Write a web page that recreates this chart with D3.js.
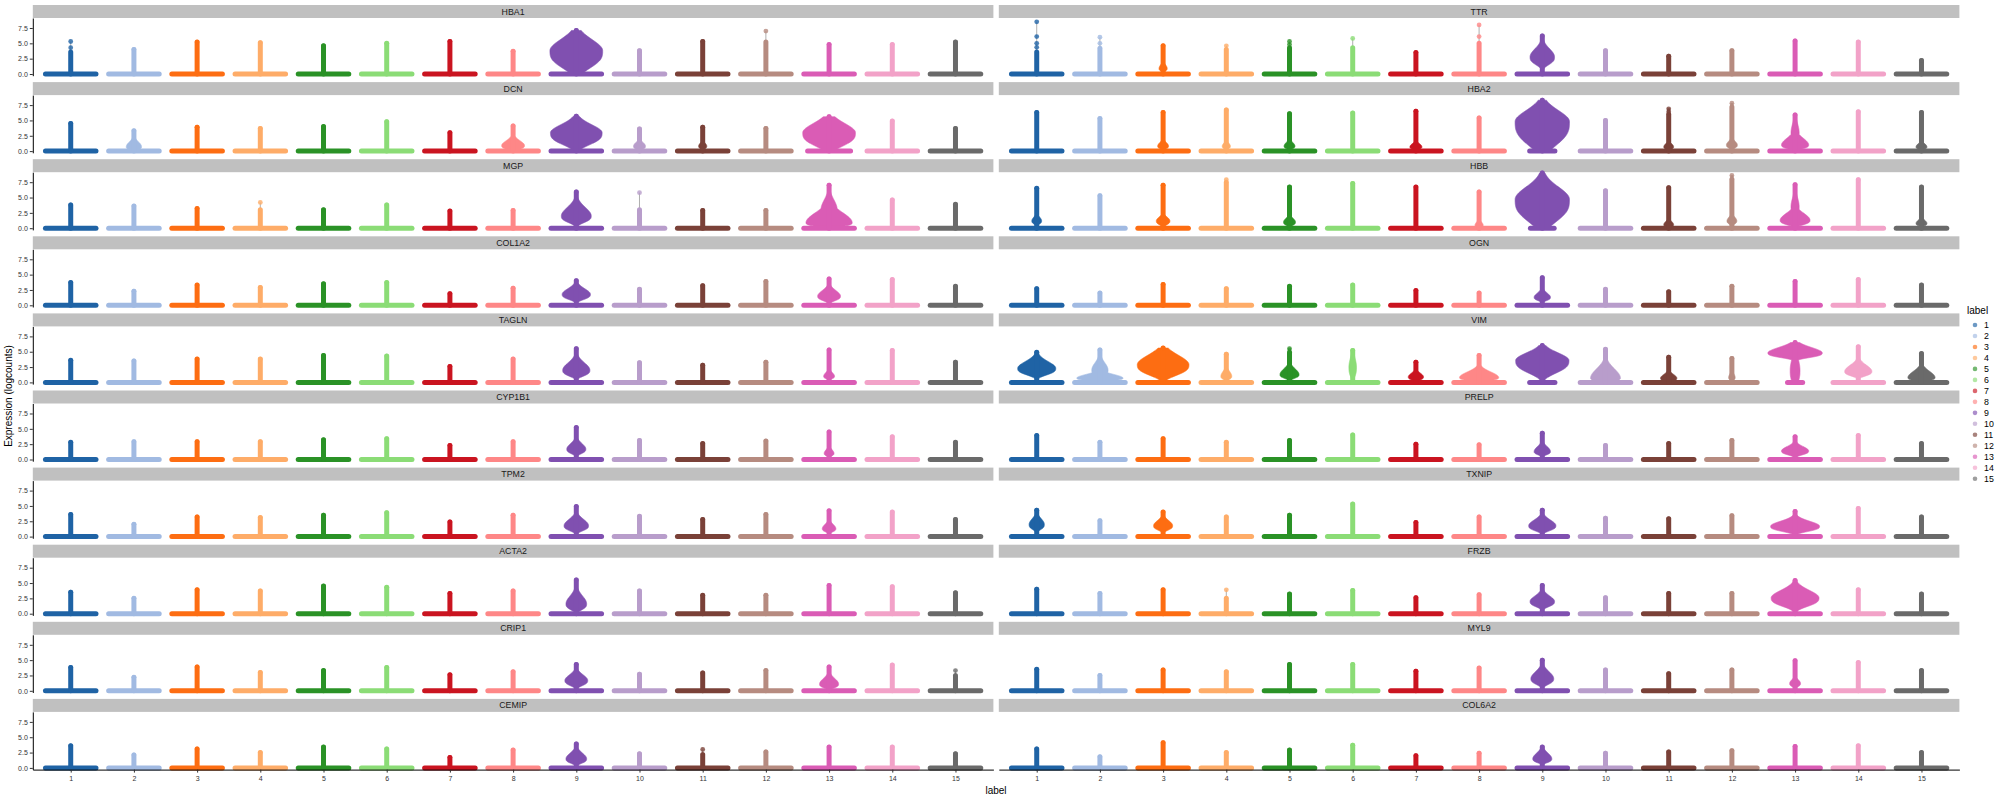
<!DOCTYPE html>
<html><head><meta charset="utf-8">
<script src="https://cdn.jsdelivr.net/npm/d3@7"></script>
<style>body{margin:0;background:#fff} svg{display:block} text{font-family:"Liberation Sans",Arial,sans-serif}</style>
</head><body><svg id="c" width="2000" height="800"></svg>
<script>
const genes = ["HBA1","TTR","DCN","HBA2","MGP","HBB","COL1A2","OGN","TAGLN","VIM","CYP1B1","PRELP","TPM2","TXNIP","ACTA2","FRZB","CRIP1","MYL9","CEMIP","COL6A2"];
const clusters = ["1","2","3","4","5","6","7","8","9","10","11","12","13","14","15"];
const palette = ["#1F63A5","#A1BAE2","#FD6D12","#FEAC68","#2A9226","#8BDC76","#CA1420","#FE8787","#8050B0","#B89DCB","#7A4138","#B68B80","#DA5CB5","#F2A2C8","#6A6A6A"];
const yTicks = [0, 2.5, 5, 7.5];

// maximum expression (top of each violin) per gene, clusters 1..15
const maxExpr = [
  [5.3,4.0,5.2,5.1,4.6,5.0,5.3,3.7,7.1,3.8,5.3,7.0,4.8,4.8,5.2], // HBA1
  [8.5,6.0,4.6,4.6,5.3,5.8,3.5,8.0,6.2,3.8,2.9,3.8,5.4,5.2,2.2], // TTR
  [4.5,3.3,3.9,3.7,4.0,4.8,3.0,4.1,5.7,3.6,3.9,3.7,5.6,4.9,3.7], // DCN
  [6.3,5.3,6.3,6.7,6.1,6.2,6.5,5.4,8.3,5.0,6.9,7.8,5.9,6.4,6.3], // HBA2
  [3.8,3.6,3.2,4.2,3.0,3.8,2.8,2.9,5.9,5.8,2.9,2.9,7.0,4.6,3.9], // MGP
  [6.5,5.3,7.0,7.8,6.7,7.3,6.7,5.9,9.0,6.1,6.6,8.6,7.1,7.9,6.7], // HBB
  [3.7,2.3,3.3,2.9,3.5,3.7,1.9,2.8,4.0,2.6,3.2,3.9,4.3,4.2,3.1], // COL1A2
  [2.7,2.0,3.4,2.7,3.1,3.3,2.4,2.0,4.5,2.6,2.2,3.1,3.9,4.2,3.3], // OGN
  [3.6,3.5,3.8,3.8,4.4,4.3,2.6,3.8,5.5,3.2,2.8,3.3,5.3,5.2,3.3], // TAGLN
  [4.9,5.3,5.6,4.6,5.5,5.2,3.3,4.4,6.0,5.4,4.1,3.9,6.5,5.8,4.7], // VIM
  [2.8,2.9,2.9,2.9,3.2,3.4,2.3,2.9,5.2,3.1,2.6,3.0,4.5,3.7,2.8], // CYP1B1
  [3.9,2.8,3.4,2.8,3.1,4.0,2.5,2.4,4.3,2.3,2.6,3.1,3.7,3.9,2.6], // PRELP
  [3.6,2.0,3.2,3.1,3.5,3.9,2.4,3.5,4.9,3.3,2.8,3.6,4.2,4.0,2.8], // TPM2
  [4.3,2.6,4.0,3.2,3.5,5.3,2.3,3.2,4.3,3.0,2.9,3.4,4.1,4.6,3.2], // TXNIP
  [3.5,2.5,3.9,3.7,4.5,4.3,3.3,3.7,5.5,3.7,3.0,3.0,4.6,4.4,3.4], // ACTA2
  [4.0,3.3,3.9,3.9,3.2,3.8,2.6,3.1,4.6,2.6,3.3,3.3,5.4,3.9,3.2], // FRZB
  [3.8,2.2,3.9,3.0,3.3,3.8,2.6,3.1,4.3,2.7,2.9,3.3,3.9,4.2,3.3], // CRIP1
  [3.5,2.5,3.4,3.1,4.3,4.3,3.2,3.7,5.0,3.4,2.8,3.4,4.9,4.6,3.3], // MYL9
  [3.6,2.1,3.1,2.5,3.4,3.1,1.7,2.9,3.9,2.3,3.0,2.6,3.4,3.4,2.3], // CEMIP
  [3.1,1.8,4.1,2.5,2.9,3.7,2.0,2.4,3.4,2.4,2.6,2.8,3.5,3.6,2.5]  // COL6A2
];

// density bulges: [gene, cluster, centre, relative half-width, spread below, spread above]
const bodies = [
  ["HBA1",9,3.8,0.97,2.6,1.8],
  ["DCN",2,0.7,0.28,0.5,0.8],["DCN",8,0.9,0.42,0.6,0.8],["DCN",9,3.0,0.95,1.8,1.3],
  ["DCN",10,0.8,0.22,0.5,0.6],["DCN",11,0.8,0.15,0.4,0.5],["DCN",13,3.0,0.97,2.0,1.5],
  ["MGP",9,2.0,0.55,1.0,1.4],["MGP",13,0.9,0.85,0.6,1.6],["MGP",13,3.0,0.3,1.5,1.6],
  ["COL1A2",9,1.8,0.52,0.8,0.9],["COL1A2",13,1.5,0.42,0.7,0.9],
  ["TAGLN",9,2.0,0.5,0.9,1.2],["TAGLN",13,1.0,0.2,0.4,0.6],
  ["CYP1B1",9,1.7,0.35,0.7,0.9],["CYP1B1",13,1.0,0.18,0.4,0.6],
  ["TPM2",9,1.8,0.45,0.8,1.0],["TPM2",13,1.3,0.25,0.5,0.7],
  ["ACTA2",9,1.6,0.38,0.9,1.3],
  ["CRIP1",9,1.7,0.42,0.8,0.9],["CRIP1",13,1.1,0.35,0.6,0.9],
  ["CEMIP",9,1.5,0.38,0.7,0.9],
  ["TTR",9,2.8,0.45,1.2,1.3],["TTR",3,0.9,0.15,0.4,0.6],
  ["HBA2",9,4.8,1.0,3.5,1.8],["HBA2",13,1.0,0.5,0.6,1.1],["HBA2",13,3.0,0.15,1.0,1.5],
  ["HBA2",3,0.8,0.2,0.4,0.6],["HBA2",5,0.8,0.2,0.4,0.6],["HBA2",7,0.7,0.22,0.4,0.5],
  ["HBA2",11,0.7,0.18,0.4,0.5],["HBA2",12,1.0,0.2,0.5,0.6],["HBA2",15,0.7,0.2,0.4,0.5],["HBA2",4,0.8,0.15,0.4,0.5],
  ["HBB",9,4.7,1.0,3.3,2.0],["HBB",13,1.3,0.55,0.7,1.1],["HBB",13,3.5,0.15,1.2,1.5],
  ["HBB",3,1.2,0.25,0.6,0.6],["HBB",5,1.0,0.22,0.5,0.6],["HBB",1,1.2,0.18,0.5,0.6],["HBB",15,0.8,0.2,0.4,0.5],
  ["HBB",11,0.6,0.18,0.4,0.5],["HBB",12,1.2,0.18,0.5,0.6],["HBB",8,0.5,0.15,0.3,0.5],
  ["OGN",9,1.3,0.3,0.5,0.7],
  ["VIM",1,2.3,0.7,1.0,1.1],["VIM",2,0.7,0.85,0.4,0.6],["VIM",2,2.0,0.3,1.0,1.2],["VIM",3,2.9,0.95,1.6,1.5],
  ["VIM",4,1.0,0.2,0.5,0.8],["VIM",5,1.3,0.35,0.6,0.9],["VIM",6,2.5,0.14,1.5,1.5],["VIM",7,0.9,0.28,0.5,0.6],
  ["VIM",8,0.8,0.72,0.5,0.9],["VIM",9,3.6,0.98,1.9,1.2],["VIM",10,0.7,0.55,0.5,1.5],["VIM",11,0.7,0.3,0.5,0.6],
  ["VIM",12,0.8,0.12,0.4,0.6],["VIM",13,4.8,1.0,0.7,0.9],["VIM",13,2.0,0.18,2.0,2.0],["VIM",14,1.8,0.5,0.7,1.0],
  ["VIM",15,0.8,0.5,0.5,1.0],
  ["PRELP",9,1.3,0.3,0.5,0.8],["PRELP",13,1.4,0.5,0.6,0.7],
  ["TXNIP",1,2.0,0.28,0.8,0.9],["TXNIP",3,1.8,0.35,0.7,0.8],["TXNIP",9,1.8,0.5,0.8,0.9],["TXNIP",13,1.7,0.9,0.8,0.8],
  ["FRZB",9,2.0,0.45,0.8,0.9],["FRZB",13,2.6,0.88,1.3,1.2],
  ["MYL9",9,2.0,0.42,0.9,1.1],["MYL9",13,1.2,0.2,0.5,0.6],
  ["COL6A2",9,1.5,0.35,0.6,0.9]
];

// violins whose dense column stops below the max: [gene, cluster, column top, isolated points]
const thinTops = [
  ["HBA1",1,3.6,[4.3,5.3]],["HBA1",12,5.2,[7.0]],
  ["TTR",1,3.6,[4.35,5.0,6.1,8.5]],["TTR",2,4.2,[5.0,6.0]],["TTR",4,4.0,[4.6]],["TTR",5,4.3,[4.8,5.3]],
  ["TTR",6,4.3,[5.8]],["TTR",8,5.0,[6.1,8.0]],
  ["MGP",10,3.0,[5.8]],["MGP",4,3.0,[4.2]],
  ["HBA2",11,6.0,[6.4,6.9]],["HBA2",12,7.2,[7.8]],
  ["HBB",12,8.0,[8.6]],["HBB",4,7.5,[7.9]],
  ["FRZB",4,2.5,[3.9]],["CRIP1",15,2.5,[3.3]],["CEMIP",11,2.2,[3.0]],["VIM",5,4.9,[5.5]]
];

// zero-bar width relative to full violin width where narrower than full
const zeroWidth = [["DCN",13,0.85],["HBA2",9,0.5],["HBB",9,0.47],["VIM",9,0.5],["VIM",13,0.3]];

const svg = d3.select("#c");
const colX0 = [32.8, 998.8], panelW = 960.6;
const rowPitch = 77.1, stripTop0 = 5, stripH = 13, panelH = 57.7;
const yLo = -0.277, yHi = 9.13;
const nRows = 10;

genes.forEach((g, gi) => {
  const col = gi % 2, row = Math.floor(gi / 2);
  const x0 = colX0[col];
  const sy = stripTop0 + row * rowPitch;
  const py = sy + stripH;
  const y = d3.scaleLinear().domain([yLo, yHi]).range([py + panelH, py]);
  const x = d3.scalePoint().domain(clusters).range([x0, x0 + panelW]).padding(0.6);
  const step = x.step();
  const full = 0.43 * step;
  const gp = svg.append("g");

  gp.append("rect").attr("x", x0).attr("y", sy).attr("width", panelW).attr("height", stripH).attr("fill", "#c0c0c0");
  gp.append("text").attr("x", x0 + panelW / 2).attr("y", sy + stripH / 2 + 3)
    .attr("text-anchor", "middle").attr("font-size", "8.8px").attr("fill", "#1a1a1a").text(g);

  clusters.forEach((c, ci) => {
    const top = maxExpr[gi][ci];
    const cx = x(c);
    const color = palette[ci];
    const bs = bodies.filter(b => b[0] === g && b[1] === ci + 1);
    const tt = thinTops.find(t => t[0] === g && t[1] === ci + 1);
    const zw = (zeroWidth.find(z => z[0] === g && z[1] === ci + 1) || [0, 0, 1])[2];
    const vg = gp.append("g");
    if (bs.length) {
      const ys = d3.range(0.1, top, 0.04).concat([top]);
      const hw = v => d3.max(bs, b => {
        const below = v < b[2];
        const d = (v - b[2]) / (below ? b[4] : b[5]);
        return b[3] * Math.exp(-0.5 * Math.pow(Math.abs(d), below ? 3 : 2));
      });
      const area = d3.area().x0(v => cx - Math.max(hw(v) * full, 1.2)).x1(v => cx + Math.max(hw(v) * full, 1.2)).y(v => y(v));
      vg.append("path").attr("d", area(ys)).attr("fill", color).attr("stroke", color).attr("stroke-width", 0.6);
    }
    // dense points at zero
    vg.append("line").attr("x1", cx - 0.4 * step * zw).attr("x2", cx + 0.4 * step * zw)
      .attr("y1", y(0)).attr("y2", y(0)).attr("stroke", color).attr("stroke-width", 5).attr("stroke-linecap", "round");
    const colTop = tt ? tt[2] : top;
    if (tt) {
      vg.append("line").attr("x1", cx).attr("x2", cx).attr("y1", y(colTop)).attr("y2", y(top))
        .attr("stroke", "#9a9a9a").attr("stroke-width", 0.8);
    }
    vg.append("line").attr("x1", cx).attr("x2", cx).attr("y1", y(0)).attr("y2", y(colTop))
      .attr("stroke", color).attr("stroke-width", 5).attr("stroke-linecap", "round");
    const dots = tt ? tt[3] : [top];
    vg.selectAll("circle.d").data(dots).enter().append("circle")
      .attr("cx", cx).attr("cy", d => y(d)).attr("r", 2.4).attr("fill", color).attr("fill-opacity", 0.8);
  });

  if (col === 0) {
    const ax = gp.append("g").attr("transform", `translate(${x0},0)`)
      .call(d3.axisLeft(y).tickValues(yTicks).tickFormat(d3.format(".1f")).tickSize(3).tickSizeOuter(0));
    ax.select(".domain").attr("stroke", "#000").attr("stroke-width", 1);
    ax.selectAll(".tick line").attr("stroke", "#333");
    ax.selectAll(".tick text").attr("font-size", "7px").attr("fill", "#333").attr("font-family", "Liberation Sans, Arial, sans-serif").attr("x", -5);
  }
  if (row === nRows - 1) {
    const ax = gp.append("g").attr("transform", `translate(0,${py + panelH})`)
      .call(d3.axisBottom(x).tickSize(3).tickSizeOuter(0));
    ax.select(".domain").attr("stroke", "#000").attr("stroke-width", 1);
    ax.selectAll(".tick line").attr("stroke", "#333");
    ax.selectAll(".tick text").attr("font-size", "7px").attr("fill", "#333").attr("font-family", "Liberation Sans, Arial, sans-serif").attr("y", 6);
  }
});

// axis titles
svg.append("text").attr("x", 996).attr("y", 794).attr("text-anchor", "middle").attr("font-size", "10px").attr("fill", "#000").text("label");
svg.append("text").attr("transform", "translate(12,396) rotate(-90)").attr("text-anchor", "middle").attr("font-size", "10px").attr("fill", "#000").text("Expression (logcounts)");

// legend
const lg = svg.append("g");
lg.append("text").attr("x", 1967).attr("y", 314).attr("font-size", "10px").attr("fill", "#000").text("label");
clusters.forEach((c, i) => {
  const yy = 325 + i * 10.98;
  lg.append("circle").attr("cx", 1975).attr("cy", yy).attr("r", 2.3).attr("fill", palette[i]).attr("fill-opacity", 0.65);
  lg.append("text").attr("x", 1984).attr("y", yy + 3.2).attr("font-size", "8.8px").attr("fill", "#000").text(c);
});
</script></body></html>
